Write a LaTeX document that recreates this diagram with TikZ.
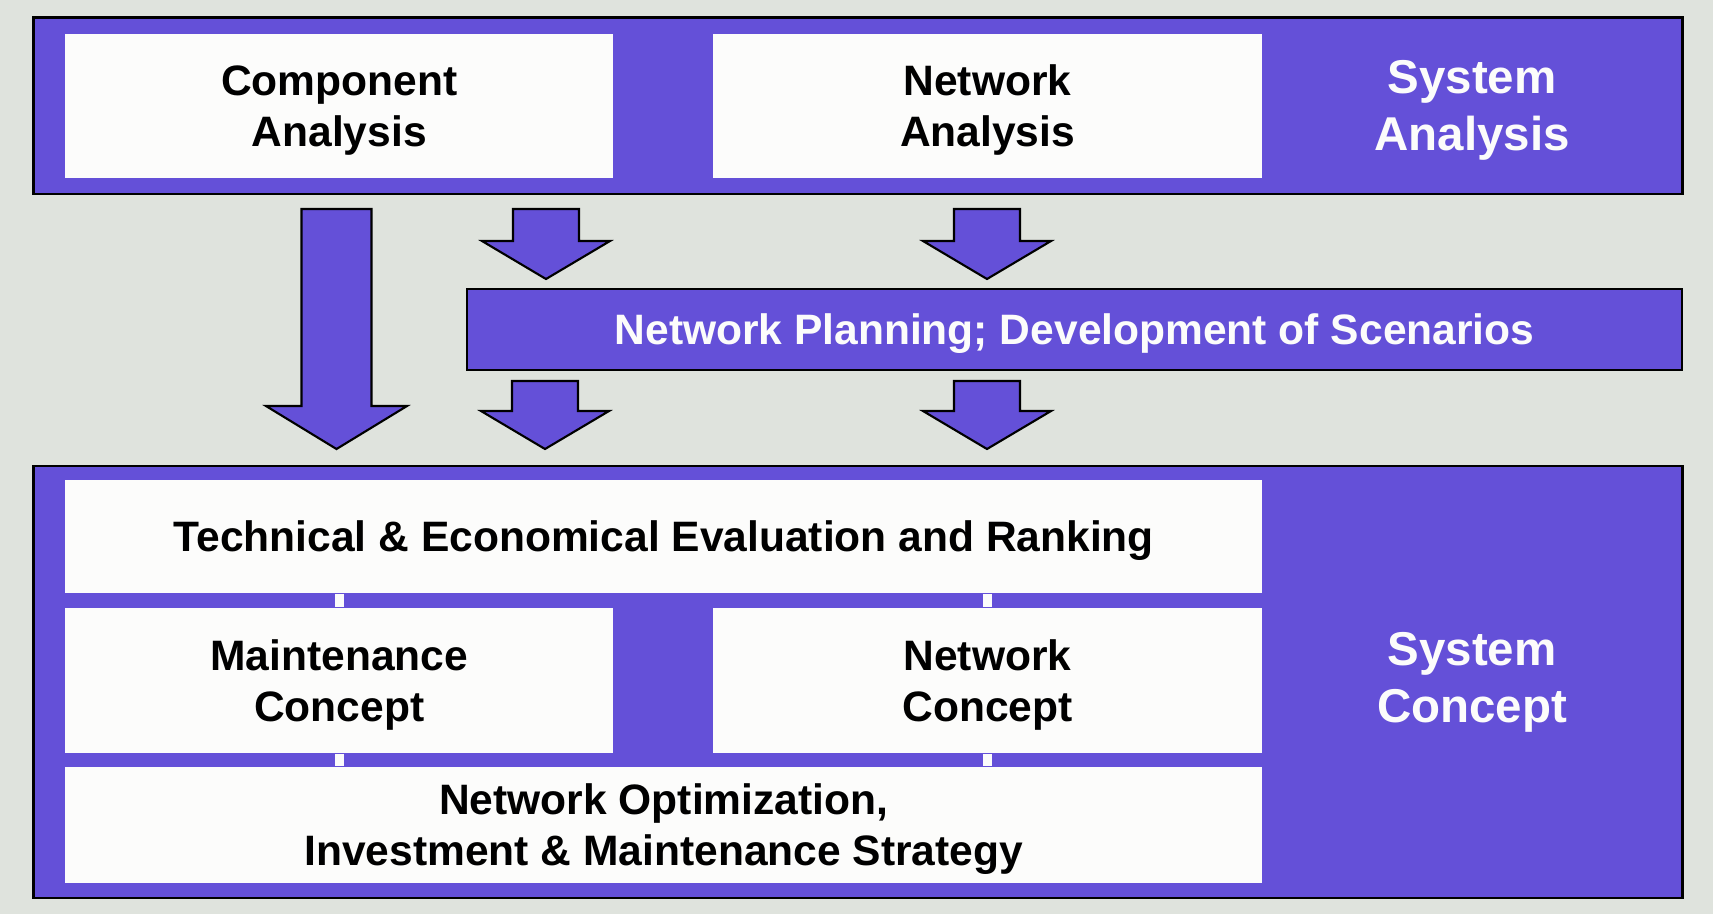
\documentclass[tikz,border=0pt]{standalone}
\usepackage{fontspec}
\setmainfont{Liberation Sans}

\definecolor{lilac}{HTML}{6450D8}
\definecolor{sage}{HTML}{DFE3DD}
\definecolor{paper}{HTML}{FCFCFB}

% block arrow: x, top, head, tip, half shaft, half head
\newcommand{\fatarrow}[6]{%
	\draw[arrowbody] (#1-#5,#2) -- (#1+#5,#2) -- (#1+#5,#3) -- (#1+#6,#3)
		-- (#1,#4) -- (#1-#6,#3) -- (#1-#5,#3) -- cycle;}

\tikzset{
	frame/.style={draw=black, line width=0.6pt, fill=lilac, inner sep=0pt},
	card/.style={fill=paper, inner sep=0pt, align=center, text depth=-0.4pt,
		font=\bfseries\fontsize{12.1}{14.5}\selectfont},
	tag/.style={text=paper, align=center, text depth=-0.4pt,
		font=\bfseries\fontsize{13.5}{16.2}\selectfont},
	arrowbody/.style={draw=black, line width=0.6pt, fill=lilac, line join=miter},
	link/.style={draw=paper, line width=0.085cm},
}

\begin{document}
\begin{tikzpicture}[x=0.01cm,y=-0.01cm]
	\fill[sage] (0,0) rectangle (1713,914);
	
	% analysis stage
	\node (anaframe) [frame, minimum width=16.48cm, minimum height=1.76cm] at (858,105.5) {};
	\node (compana) [card, minimum width=5.48cm, minimum height=1.44cm] at (339.25,106) {Component\\Analysis};
	\node (netana) [card, minimum width=5.49cm, minimum height=1.44cm] at (987.5,106) {Network\\Analysis};
	\node (sysana) [tag] at (1472,105) {System\\Analysis};
	
	% planning bar
	\node (plan) [frame, text=paper, minimum width=12.15cm, minimum height=0.81cm, text depth=-0.4pt,
		font=\bfseries\fontsize{12.1}{14.5}\selectfont] at (1074.5,329.5)
		{Network Planning; Development of Scenarios};
	
	% concept stage
	\node (conframe) [frame, minimum width=16.48cm, minimum height=4.32cm] at (858,682) {};
	\node (tech) [card, minimum width=11.965cm, minimum height=1.13cm] at (663.75,536.5)
		{Technical \& Economical Evaluation and Ranking};
	\node (maint) [card, minimum width=5.48cm, minimum height=1.45cm] at (339.25,680.5) {Maintenance\\Concept};
	\node (netcon) [card, minimum width=5.49cm, minimum height=1.45cm] at (987.5,680.5) {Network\\Concept};
	\node (optim) [card, minimum width=11.965cm, minimum height=1.16cm] at (663.75,825)
		{Network Optimization,\\Investment \& Maintenance Strategy};
	\node (syscon) [tag] at (1472,677) {System\\Concept};
	
	\foreach \n in {maint,netcon}{
		\draw[link] (tech.south -| \n) -- (\n.north);
		\draw[link] (\n.south) -- (optim.north -| \n);
	}
	
	% arrows
	\fatarrow{336.5}{209}{406}{449}{35}{70.5}
	\foreach \x in {546,987}
		\fatarrow{\x}{209}{241}{279}{33}{64};
	\foreach \x in {545,987}
		\fatarrow{\x}{381}{411}{449}{33}{64};
	
\end{tikzpicture}
\end{document}
